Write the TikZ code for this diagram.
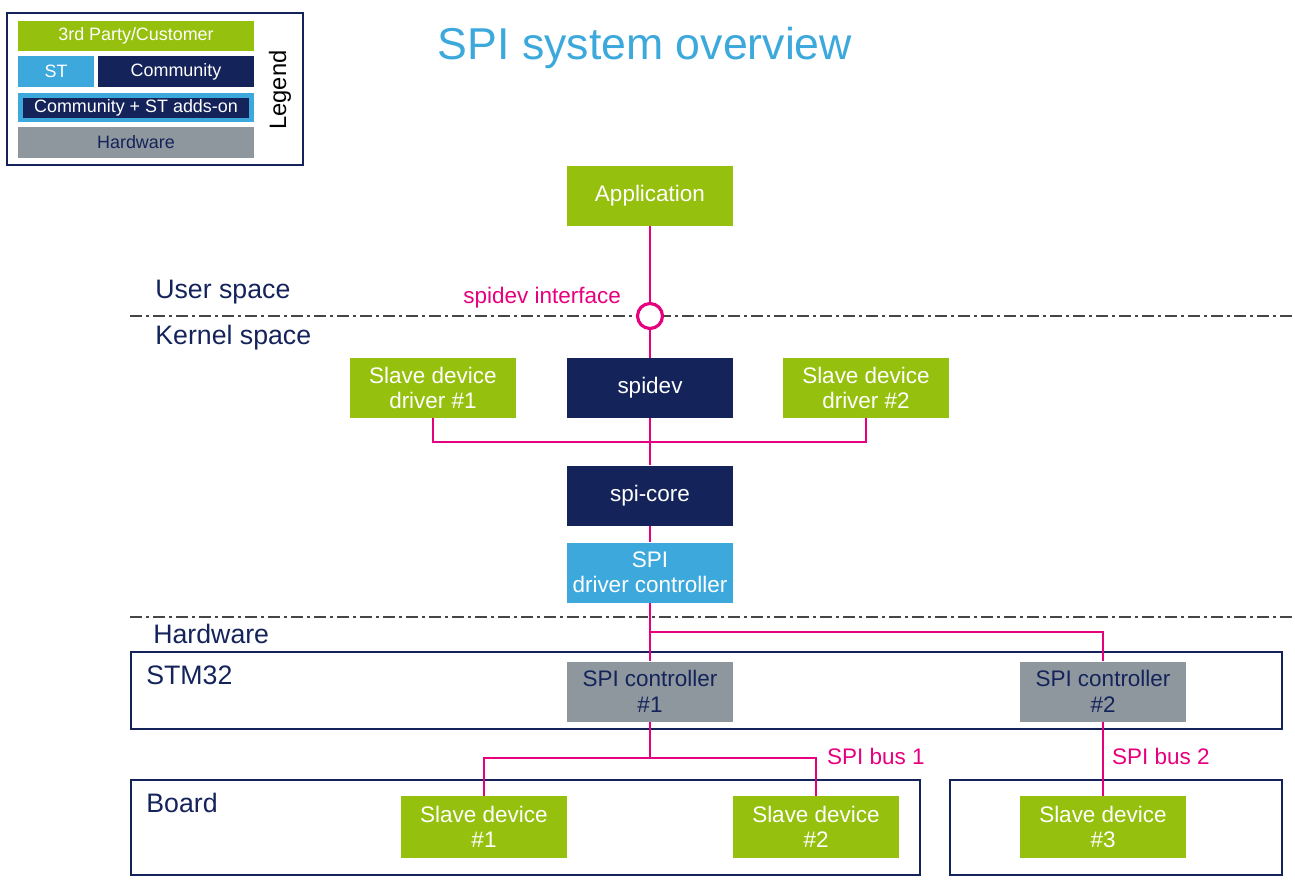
\documentclass[tikz,border=0pt]{standalone}
\usepackage{fontspec}
\setmainfont{Liberation Sans}
\usepackage{xcolor}
\usetikzlibrary{positioning,calc}
\definecolor{stgreen}{RGB}{150,192,14}
\definecolor{stnavy}{RGB}{20,35,90}
\definecolor{stblue}{RGB}{60,168,220}
\definecolor{stgray}{RGB}{143,151,158}
\definecolor{stpink}{RGB}{230,0,126}
\definecolor{sepgray}{RGB}{70,70,70}
\newcommand{\boxfont}{\fontsize{12.8}{14.5}\selectfont}
\newcommand{\zonefont}{\fontsize{15.2}{18}\selectfont}
\newcommand{\legfont}{\fontsize{10.2}{12}\selectfont}

\begin{document}
\begin{tikzpicture}[
            x=0.02cm, y=-0.02cm,
            every node/.style={font=\boxfont},
            box/.style={minimum width=3.32cm, minimum height=1.2cm, inner sep=0pt, align=center},
            tpbox/.style={box, fill=stgreen, text=white},
            combox/.style={box, fill=stnavy, text=white},
            stbox/.style={box, fill=stblue, text=white},
            hwbox/.style={box, fill=stgray, text=stnavy},
            legcell/.style={inner sep=0pt, font=\legfont, minimum height=0.61cm},
            zone/.style={draw=stnavy, line width=0.8pt, inner sep=0pt},
            zonelabel/.style={anchor=west, inner sep=0pt, font=\zonefont, text=stnavy},
            wire/.style={draw=stpink, line width=1.6pt},
            sep/.style={draw=sepgray, line width=0.8pt, dash pattern=on 0.24cm off 0.08cm on 0.06cm off 0.08cm},
        ]
            \useasboundingbox (0,0) rectangle (1295,887);

            % legend
            \node[draw=stnavy, line width=1.2pt, minimum width=5.92cm, minimum height=3.04cm, inner sep=0pt] (legend) at (155,89) {};
            \node[legcell, fill=stgreen, text=white, minimum width=4.72cm, minimum height=0.6cm] (legtp) at (136,36) {3rd Party/Customer};
            \node[legcell, fill=stblue, text=white, minimum width=1.52cm] (legst) at (56,71.5) {ST};
            \node[legcell, fill=stnavy, text=white, minimum width=3.12cm] (legcom) at (176,71.5) {Community};
            \node[legcell, fill=stnavy, draw=stblue, line width=0.09cm, text=white, minimum width=4.63cm, minimum height=0.49cm] (legadd) at (136,107.5) {Community + ST adds-on};
            \node[legcell, fill=stgray, text=stnavy, minimum width=4.72cm] (leghw) at (136,142.5) {Hardware};
            \node[rotate=90, text=black, font=\fontsize{13.5}{16}\selectfont] (legword) at (280,90) {Legend};

            % title
            \node[font=\fontsize{25.4}{30}\selectfont, text=stblue] (title) at (645,48) {SPI system overview};

            % separators
            \draw[sep] (130,316) -- (1295,316);
            \draw[sep] (130,617) -- (1295,617);
            \node[zonelabel] (user) at (155,292) {User space};
            \node[zonelabel] (kernel) at (155,338) {Kernel space};
            \node[zonelabel] (hwlabel) at (153,634) {Hardware};

            % hardware zones
            \node[zone, minimum width=23.02cm, minimum height=1.54cm] (stm) at (706.5,690.5) {};
            \node[zone, minimum width=15.78cm, minimum height=1.9cm] (board) at (525.5,827.5) {};
            \node[zone, minimum width=6.64cm, minimum height=1.9cm] (board2) at (1116,827.5) {};
            \node[zonelabel] (stmlabel) at (146,675) {STM32};
            \node[zonelabel] (boardlabel) at (146,803) {Board};

            % blocks
            \node[tpbox] (app) at (650,196) {Application};
            \node[draw=stpink, line width=1.8pt, fill=white, circle, minimum size=0.5cm, inner sep=0pt] (iface) at (650,316) {};
            \node[text=stpink, anchor=east] (ifacelabel) at (627,298) {spidev interface};
            \node[combox] (spidev) at (650,388) {spidev};
            \node[tpbox] (drv1) at (433,388) {Slave device\\driver \#1};
            \node[tpbox] (drv2) at (866,388) {Slave device\\driver \#2};
            \node[combox] (core) at (650,495.5) {spi-core};
            \node[stbox] (spidrv) at (650,572.5) {SPI\\driver controller};
            \node[hwbox] (ctrl1) at (650,691.5) {SPI controller\\\#1};
            \node[hwbox] (ctrl2) at (1103,691.5) {SPI controller\\\#2};
            \node[tpbox, minimum height=1.24cm] (dev1) at (484,827) {Slave device\\\#1};
            \node[tpbox, minimum height=1.24cm] (dev2) at (816,827) {Slave device\\\#2};
            \node[tpbox, minimum height=1.24cm] (dev3) at (1103,827) {Slave device\\\#3};
            \node[text=stpink, anchor=west] (bus1label) at (821,756) {SPI bus 1};
            \node[text=stpink, anchor=west] (bus2label) at (1106,756) {SPI bus 2};

            % connections
            \coordinate (drvbus) at (650,442);
            \coordinate (hwbus) at (650,632);
            \coordinate (spibus) at (650,758);
            \draw[wire] (app.south) -- (iface.north);
            \draw[wire] (iface.south) -- (spidev.north);
            \draw[wire] (spidev.south) -- (core.north);
            \draw[wire] (drv1.south) |- (drvbus) -| (drv2.south);
            \draw[wire] (core.south) -- (spidrv.north);
            \draw[wire] (spidrv.south) -- (ctrl1.north);
            \draw[wire] (hwbus) -| (ctrl2.north);
            \draw[wire] (ctrl1.south) -- (spibus);
            \draw[wire] (dev1.north) |- (spibus) -| (dev2.north);
            \draw[wire] (ctrl2.south) -- (dev3.north);
        \end{tikzpicture}
\end{document}
